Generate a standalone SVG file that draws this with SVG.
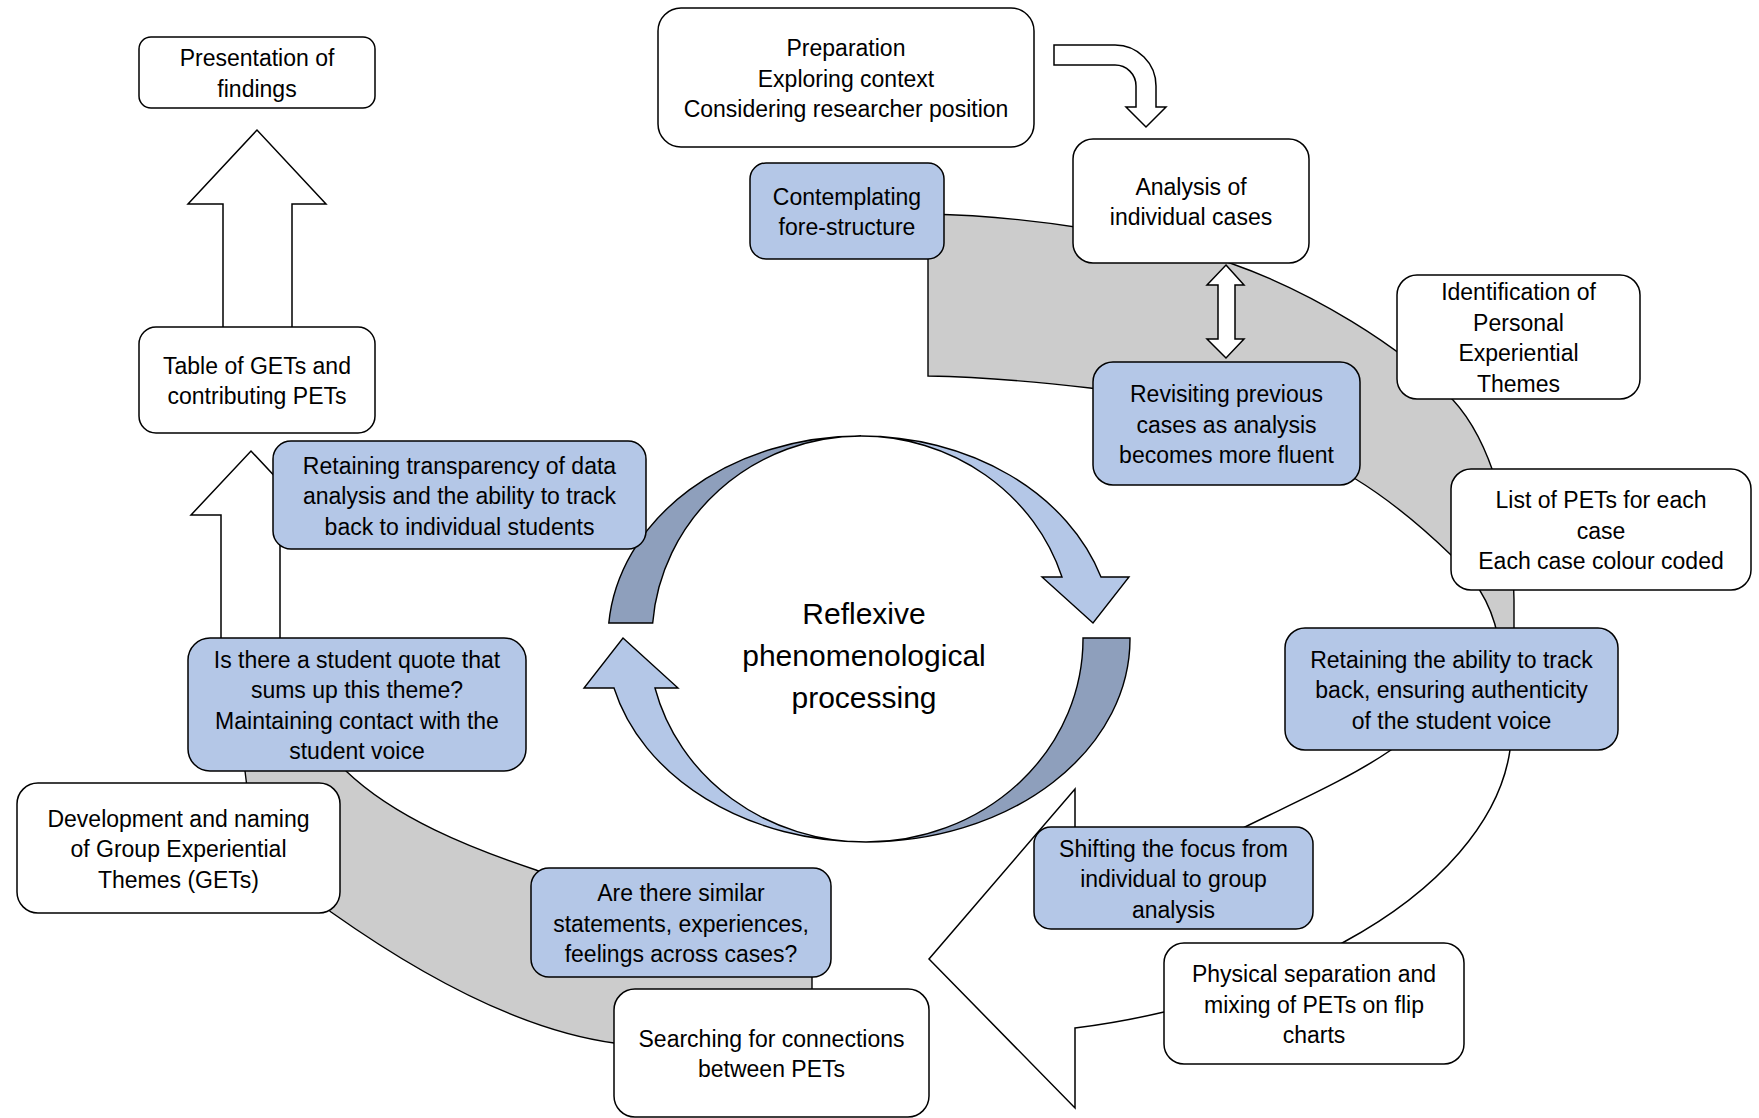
<svg xmlns="http://www.w3.org/2000/svg" width="1759" height="1118" viewBox="0 0 1759 1118">
<style>
  .box { stroke: #000; stroke-width: 1.5; }
  .w { fill: #ffffff; }
  .b { fill: #b4c7e7; }
  .band { fill: #cccccc; stroke: #000; stroke-width: 1.4; }
  .arr { fill: #ffffff; stroke: #000; stroke-width: 1.5; stroke-linejoin: miter; }
  .lt { fill: #b4c7e7; stroke: #000; stroke-width: 1.4; }
  .dk { fill: #8e9fbc; stroke: #000; stroke-width: 1.4; }
  text { font-family: "Liberation Sans", Arial, sans-serif; font-size: 23px; fill: #000; text-anchor: middle; }
  .big { font-size: 30px; }
</style>
<rect x="0" y="0" width="1759" height="1118" fill="#ffffff"/>

<g id="connectors">
  <!-- upper-right gray band -->
  <path class="band" d="M928,376 L928,214 C1030,216 1150,235 1230,263 C1310,291 1400,345 1453,400 C1490,440 1514,520 1514,600 L1514,650 L1500,650 C1496,615 1482,585 1451,555 C1420,525 1390,500 1354,478 C1270,430 1180,398 1090,388 C1030,381 980,377 928,376 Z"/>
  <!-- lower-left gray band -->
  <path class="band" d="M240,700 L245,771 C250,830 285,875 331,912 C420,975 520,1030 614,1043 C680,1058 750,1068 812,1072 L812,940 C700,925 600,900 536,870 C470,848 395,818 346,771 L330,700 Z"/>
  <!-- big white curved arrow (lower right) -->
  <path class="arr" d="M1391,750 L1400,700 L1515,700 L1510,750 C1500,820 1440,890 1344,942 C1290,975 1220,1000 1164,1012 C1130,1020 1100,1025 1075,1028 L1075,1108 L929,959 L1075,789 L1075,870 C1150,870 1200,850 1249,825 C1300,800 1350,778 1391,750 Z"/>
  <!-- up arrow: Table -> Presentation -->
  <path class="arr" d="M223,340 L223,204 L188,204 L257,130 L326,204 L292,204 L292,340 Z"/>
  <!-- up arrow: Quote -> Table -->
  <path class="arr" d="M221,650 L221,515 L191,515 L251,451 L311,515 L280,515 L280,650 Z"/>
  <!-- bent arrow: Preparation -> Analysis -->
  <path class="arr" d="M1054,45 L1115,45 A41,41 0 0 1 1156,86 L1156,107 L1166,107 L1146,127 L1126,107 L1136,107 L1136,86 A21,21 0 0 0 1115,65 L1054,65 Z"/>
  <!-- double arrow: Analysis <-> Revisiting -->
  <path class="arr" d="M1226,265 L1244,285 L1235,285 L1235,339 L1244,339 L1226,358 L1207,339 L1218,339 L1218,285 L1207,285 Z"/>
  <!-- central circular arrows -->
  <path class="dk" d="M608.8,623 A253,203 0 0 1 861,436 A209,203 0 0 0 652.7,623 Z"/>
  <path class="lt" d="M861,436 A252,203 0 0 1 1101,577 L1129,577 L1093,623 L1042,577 L1062,577 A211,203 0 0 0 861,436 Z"/>
  <path class="dk" d="M1130,638 A264,203 0 0 1 866,842 A217,203 0 0 0 1083,638 Z"/>
  <path class="lt" d="M866,842 A260,203 0 0 1 614,688 L584,688 L623,638 L678,688 L655,688 A217,203 0 0 0 866,842 Z"/>
</g>

<g id="center-label">
  <text class="big" x="864" y="624">Reflexive</text>
  <text class="big" x="864" y="666">phenomenological</text>
  <text class="big" x="864" y="708">processing</text>
</g>

<g id="presentation">
  <rect class="box w" x="139" y="37" width="236" height="71" rx="12"/>
  <text x="257" y="66.25">Presentation of</text>
  <text x="257" y="96.75">findings</text>
</g>
<g id="table">
  <rect class="box w" x="139" y="327" width="236" height="106" rx="17"/>
  <text x="257" y="373.75">Table of GETs and</text>
  <text x="257" y="404.25">contributing PETs</text>
</g>
<g id="preparation">
  <rect class="box w" x="658" y="8" width="376" height="139" rx="23"/>
  <text x="846" y="56">Preparation</text>
  <text x="846" y="86.5">Exploring context</text>
  <text x="846" y="117">Considering researcher position</text>
</g>
<g id="contemplating">
  <rect class="box b" x="750" y="163" width="194" height="96" rx="16"/>
  <text x="847" y="204.75">Contemplating</text>
  <text x="847" y="235.25">fore-structure</text>
</g>
<g id="analysis">
  <rect class="box w" x="1073" y="139" width="236" height="124" rx="20"/>
  <text x="1191" y="194.75">Analysis of</text>
  <text x="1191" y="225.25">individual cases</text>
</g>
<g id="identification">
  <rect class="box w" x="1397" y="275" width="243" height="124" rx="20"/>
  <text x="1518.5" y="300.25">Identification of</text>
  <text x="1518.5" y="330.75">Personal</text>
  <text x="1518.5" y="361.25">Experiential</text>
  <text x="1518.5" y="391.75">Themes</text>
</g>
<g id="revisiting">
  <rect class="box b" x="1093" y="362" width="267" height="123" rx="20"/>
  <text x="1226.5" y="402">Revisiting previous</text>
  <text x="1226.5" y="432.5">cases as analysis</text>
  <text x="1226.5" y="463">becomes more fluent</text>
</g>
<g id="retaining-transparency">
  <rect class="box b" x="273" y="441" width="373" height="108" rx="18"/>
  <text x="459.5" y="473.5">Retaining transparency of data</text>
  <text x="459.5" y="504">analysis and the ability to track</text>
  <text x="459.5" y="534.5">back to individual students</text>
</g>
<g id="list-pets">
  <rect class="box w" x="1451" y="469" width="300" height="121" rx="20"/>
  <text x="1601" y="508">List of PETs for each</text>
  <text x="1601" y="538.5">case</text>
  <text x="1601" y="569">Each case colour coded</text>
</g>
<g id="student-quote">
  <rect class="box b" x="188" y="638" width="338" height="133" rx="22"/>
  <text x="357" y="667.75">Is there a student quote that</text>
  <text x="357" y="698.25">sums up this theme?</text>
  <text x="357" y="728.75">Maintaining contact with the</text>
  <text x="357" y="759.25">student voice</text>
</g>
<g id="retaining-ability">
  <rect class="box b" x="1285" y="628" width="333" height="122" rx="20"/>
  <text x="1451.5" y="667.5">Retaining the ability to track</text>
  <text x="1451.5" y="698">back, ensuring authenticity</text>
  <text x="1451.5" y="728.5">of the student voice</text>
</g>
<g id="development">
  <rect class="box w" x="17" y="783" width="323" height="130" rx="21"/>
  <text x="178.5" y="826.5">Development and naming</text>
  <text x="178.5" y="857">of Group Experiential</text>
  <text x="178.5" y="887.5">Themes (GETs)</text>
</g>
<g id="similar">
  <rect class="box b" x="531" y="868" width="300" height="109" rx="18"/>
  <text x="681" y="901">Are there similar</text>
  <text x="681" y="931.5">statements, experiences,</text>
  <text x="681" y="962">feelings across cases?</text>
</g>
<g id="shifting">
  <rect class="box b" x="1034" y="827" width="279" height="102" rx="17"/>
  <text x="1173.5" y="856.5">Shifting the focus from</text>
  <text x="1173.5" y="887">individual to group</text>
  <text x="1173.5" y="917.5">analysis</text>
</g>
<g id="searching">
  <rect class="box w" x="614" y="989" width="315" height="128" rx="21"/>
  <text x="771.5" y="1046.75">Searching for connections</text>
  <text x="771.5" y="1077.25">between PETs</text>
</g>
<g id="physical">
  <rect class="box w" x="1164" y="943" width="300" height="121" rx="20"/>
  <text x="1314" y="982">Physical separation and</text>
  <text x="1314" y="1012.5">mixing of PETs on flip</text>
  <text x="1314" y="1043">charts</text>
</g>
</svg>
